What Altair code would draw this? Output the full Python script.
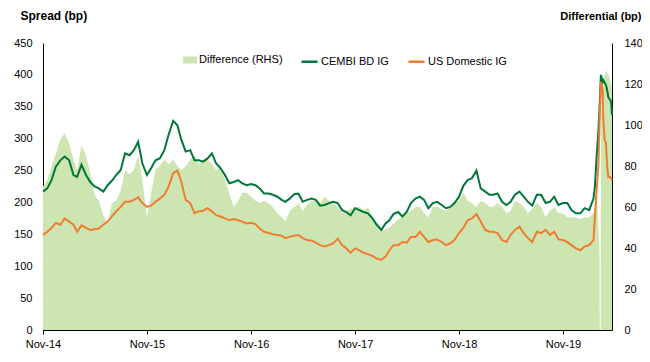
import altair as alt
import pandas as pd

# ---- semi-monthly grid: Nov-2014 .. Feb-2020 (1st and 16th of each month)
grid_dates = []
for k in range(128):
    mi = 10 + k // 2
    yy = 2014 + mi // 12
    mm = mi % 12 + 1
    dd = 1 if k % 2 == 0 else 16
    grid_dates.append(f"{yy:04d}-{mm:02d}-{dd:02d}")

cembi_grid = [
    217, 222, 235, 256, 266, 272, 266, 243, 240, 259, 243, 232,
    225, 222, 217, 227, 234, 243, 251, 277, 274, 282, 295, 261,
    243, 254, 266, 269, 282, 306, 328, 321, 298, 280, 282, 266,
    266, 264, 269, 277, 261, 254, 243, 230, 232, 235, 230, 227,
    229, 227, 222, 214, 214, 212, 209, 204, 201, 206, 213, 214,
    201, 204, 206, 204, 195, 196, 199, 201, 199, 188, 185, 180,
    191, 188, 185, 183, 175, 165, 157, 167, 172, 182, 185, 178,
    185, 199, 206, 209, 204, 191, 199, 201, 196, 191, 193, 199,
    209, 226, 235, 238, 250, 222, 217, 212, 212, 214, 201, 196,
    201, 212, 217, 209, 201, 195, 212, 212, 199, 201, 209, 196,
    199, 199, 188, 183, 183, 191, 188, 206,
]
us_grid = [
    149, 154, 160, 168, 165, 175, 170, 165, 154, 164, 160, 157,
    158, 159, 165, 170, 178, 186, 193, 201, 201, 204, 208, 199,
    193, 195, 201, 206, 212, 225, 246, 250, 232, 204, 199, 183,
    186, 187, 191, 186, 180, 178, 175, 172, 174, 172, 170, 167,
    168, 166, 159, 154, 152, 150, 149, 148, 144, 146, 148, 149,
    144, 141, 140, 137, 133, 131, 133, 136, 143, 133, 128, 121,
    128, 125, 121, 119, 116, 112, 110, 115, 125, 133, 133, 138,
    137, 146, 146, 154, 146, 138, 141, 142, 138, 133, 136, 141,
    152, 160, 172, 175, 182, 170, 157, 154, 154, 152, 141, 138,
    149, 157, 162, 152, 144, 138, 154, 152, 157, 149, 154, 142,
    141, 138, 133, 128, 125, 131, 133, 141,
]
diff_grid = [
    70, 73, 80, 86, 93, 96, 91, 83, 78, 90, 85, 77,
    66, 63, 56, 52, 62, 63, 68, 78, 76, 78, 85, 73,
    55, 67, 78, 80, 83, 81, 83, 80, 78, 80, 83, 85,
    81, 83, 83, 81, 78, 80, 73, 67, 60, 63, 67, 67,
    65, 63, 62, 63, 62, 60, 57, 55, 53, 58, 60, 62,
    58, 61, 63, 63, 62, 65, 63, 62, 60, 57, 58, 59,
    60, 60, 58, 60, 55, 52, 49, 49, 50, 52, 54, 55,
    57, 58, 60, 60, 57, 55, 60, 60, 59, 58, 60, 62,
    63, 67, 63, 62, 60, 63, 62, 60, 60, 62, 60, 57,
    58, 63, 62, 60, 57, 59, 62, 60, 55, 58, 60, 57,
    57, 55, 55, 55, 54, 55, 55, 57,
]

# ---- Covid spike, Feb-Apr 2020
tail_line_dates = ["2020-02-21", "2020-02-27", "2020-03-04", "2020-03-10", "2020-03-13",
                   "2020-03-19", "2020-03-21", "2020-03-26", "2020-03-31", "2020-04-04",
                   "2020-04-08", "2020-04-14", "2020-04-18", "2020-04-21"]
tail_cembi = [225, 272, 309, 366, 400, 389, 392, 388, 384, 376, 365, 361, 358, 337]
tail_us = [178, 220, 256, 350, 389, 376, 334, 298, 293, 256, 240, 240, 238, 235]

tail_diff_dates = ["2020-02-21", "2020-02-27", "2020-03-04", "2020-03-08", "2020-03-09",
                   "2020-03-12", "2020-03-13", "2020-03-19", "2020-03-21", "2020-03-26",
                   "2020-03-31", "2020-04-04", "2020-04-08", "2020-04-14", "2020-04-18",
                   "2020-04-21"]
tail_diff = [60, 70, 50, 38, 0, 0, 100, 118, 120, 124, 127, 125, 125, 122, 120, 118]

series_names = ["CEMBI BD IG", "US Domestic IG"]
area_name = "Difference (RHS)"
left_ticks = list(range(0, 451, 50))
right_ticks = list(range(0, 141, 20))
tick_years = [2014, 2015, 2016, 2017, 2018, 2019]

FONT = "Liberation Sans"
C_AREA = "#cde6b1"
C_CEMBI = "#00773a"
C_US = "#ee7d31"

line_dates = grid_dates + tail_line_dates
n = len(line_dates)
line_df = pd.DataFrame({
    "date": line_dates * 2,
    "value": cembi_grid + tail_cembi + us_grid + tail_us,
    "series": [series_names[0]] * n + [series_names[1]] * n,
})
area_df = pd.DataFrame({
    "date": grid_dates + tail_diff_dates,
    "value": diff_grid + tail_diff,
    "series": [area_name] * (len(grid_dates) + len(tail_diff_dates)),
})

x_enc = alt.X(
    "date:T",
    title=None,
    scale=alt.Scale(type="utc", domain=[alt.DateTime(year=2014, month=11, date=1, utc=True),
                                        alt.DateTime(year=2020, month=4, date=21, utc=True)]),
    axis=alt.Axis(values=[alt.DateTime(year=y, month=11, date=1, utc=True) for y in tick_years],
                  format="%b-%y", grid=False, tickSize=4, labelPadding=4, labelFlush=False,
                  domainColor="black", tickColor="black", labelColor="black",
                  labelFont=FONT, labelFontSize=11, labelOverlap=False),
)

area = alt.Chart(area_df).mark_area(opacity=1, interpolate="linear").encode(
    x=x_enc,
    y=alt.Y("value:Q", scale=alt.Scale(domain=[0, 140], nice=False),
            axis=alt.Axis(orient="right", values=right_ticks, grid=False, ticks=False, tickSize=0,
                          labelPadding=12, domainColor="black", labelColor="black",
                          labelFont=FONT, labelFontSize=11,
                          title="Differential (bp)", titleAngle=0, titleAlign="right",
                          titleBaseline="alphabetic", titleX=29, titleY=-24,
                          titleFont=FONT, titleFontSize=11, titleFontWeight="bold",
                          titleColor="black")),
    fill=alt.Fill("series:N", title=None,
                  scale=alt.Scale(domain=[area_name], range=[C_AREA]),
                  legend=alt.Legend(orient="none", legendX=140, legendY=10, direction="horizontal",
                                    symbolType="M-1,-0.5L1,-0.5L1,0.5L-1,0.5Z", symbolSize=196,
                                    symbolStrokeWidth=0, labelFont=FONT, labelFontSize=11,
                                    labelColor="black", labelOffset=2, padding=0)),
)

lines = alt.Chart(line_df).mark_line(strokeWidth=2, interpolate="linear").encode(
    x=x_enc,
    y=alt.Y("value:Q", scale=alt.Scale(domain=[0, 450], nice=False),
            axis=alt.Axis(orient="left", values=left_ticks, grid=False, ticks=False, tickSize=0,
                          labelPadding=11, domainColor="black", labelColor="black",
                          labelFont=FONT, labelFontSize=11,
                          title="Spread (bp)", titleAngle=0, titleAlign="left",
                          titleBaseline="alphabetic", titleX=-23, titleY=-24,
                          titleFont=FONT, titleFontSize=12, titleFontWeight="bold",
                          titleColor="black")),
    color=alt.Color("series:N", title=None,
                    scale=alt.Scale(domain=series_names, range=[C_CEMBI, C_US]),
                    legend=alt.Legend(orient="none", legendX=257, legendY=9, direction="horizontal",
                                      symbolType="stroke", symbolSize=256, symbolStrokeWidth=2.5,
                                      columnPadding=14, labelFont=FONT, labelFontSize=11,
                                      labelColor="black", labelOffset=2, padding=0)),
)

chart = alt.layer(area, lines).resolve_scale(y="independent").properties(
    width=569, height=287,
    autosize=alt.AutoSizeParams(type="none"),
    padding={"left": 35, "top": 35, "right": 30, "bottom": 24},
    background="white",
).configure_view(stroke=None)

chart.save("out.html", embed_options={"renderer": "svg", "actions": False})
